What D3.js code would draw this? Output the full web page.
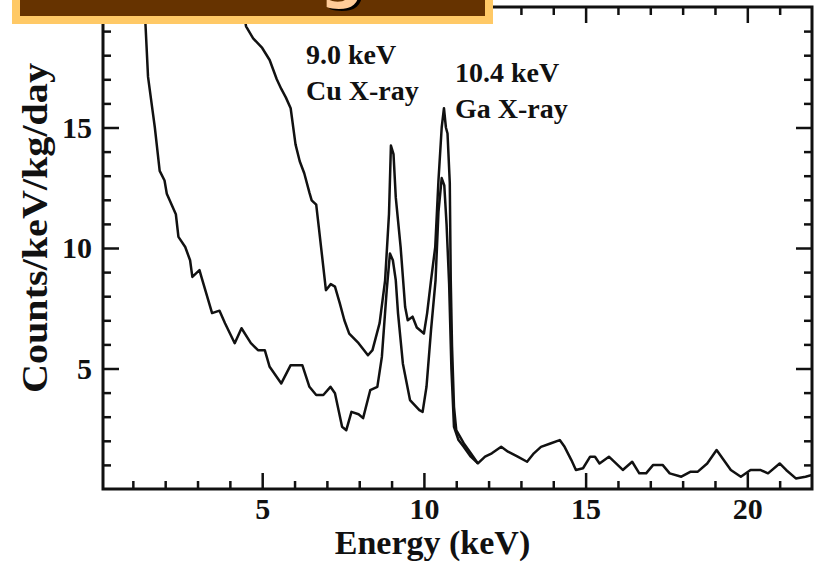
<!DOCTYPE html>
<html>
<head>
<meta charset="utf-8">
<script src="https://cdn.jsdelivr.net/npm/d3@7"></script>
<style>
  html, body { margin: 0; padding: 0; background: #fff; }
  svg { display: block; }
  .tick text { font-family: "Liberation Serif", "Times New Roman", serif; font-weight: bold; }
</style>
</head>
<body>
<svg id="chart" width="823" height="573"></svg>
<script>
// Spectrum with the higher low-energy background (upper trace)
const energyUpper = [4.35, 4.50, 4.72, 5.00, 5.23, 5.45, 5.59, 5.73, 5.88, 6.03, 6.16, 6.30, 6.46, 6.53, 6.67, 6.75, 6.82, 6.97, 7.12, 7.25, 7.40, 7.54, 7.69, 7.98, 8.27, 8.41, 8.63, 8.80, 8.92, 8.98, 9.06, 9.13, 9.28, 9.42, 9.50, 9.65, 9.78, 10.00, 10.10, 10.22, 10.35, 10.45, 10.55, 10.62, 10.68, 10.73, 10.80, 10.83, 10.87, 10.93, 11.00, 11.23, 11.45, 11.67];
const countsUpper = [20.5, 19.2, 18.7, 18.3, 17.8, 17.0, 16.6, 16.25, 15.8, 14.3, 13.6, 13.1, 12.3, 11.98, 11.8, 10.87, 10.04, 8.25, 8.5, 8.4, 7.7, 7.0, 6.45, 6.05, 5.55, 5.76, 6.88, 8.66, 11.4, 14.25, 13.9, 12.1, 10.04, 7.55, 7.0, 7.15, 6.7, 6.45, 7.3, 8.66, 10.04, 12.8, 15.0, 15.8, 15.0, 14.75, 12.7, 8.66, 5.9, 3.41, 2.44, 1.9, 1.48, 1.06];

// Spectrum with the lower background (lower trace)
const energyLower = [1.30, 1.39, 1.47, 1.61, 1.68, 1.83, 1.98, 2.05, 2.33, 2.41, 2.62, 2.77, 2.84, 3.06, 3.12, 3.45, 3.68, 3.85, 4.15, 4.36, 4.65, 4.87, 5.08, 5.23, 5.59, 5.88, 6.24, 6.46, 6.67, 6.89, 7.11, 7.25, 7.47, 7.60, 7.76, 7.98, 8.12, 8.34, 8.56, 8.70, 8.85, 8.95, 9.04, 9.13, 9.20, 9.35, 9.57, 9.86, 9.96, 10.08, 10.22, 10.36, 10.45, 10.55, 10.63, 10.70, 10.78, 10.85, 10.93, 11.07, 11.23, 11.45, 11.67, 11.89, 12.10, 12.39, 12.60, 12.90, 13.19, 13.40, 13.62, 13.91, 14.20, 14.35, 14.56, 14.70, 14.92, 15.14, 15.29, 15.43, 15.72, 15.94, 16.15, 16.44, 16.66, 16.87, 17.09, 17.38, 17.60, 17.96, 18.25, 18.47, 18.76, 19.05, 19.27, 19.49, 19.80, 20.10, 20.40, 20.64, 21.00, 21.20, 21.50, 21.80, 22.00];
const countsLower = [20.5, 19.3, 17.1, 15.7, 15.0, 13.2, 12.8, 12.25, 11.4, 10.46, 10.04, 9.49, 8.8, 9.08, 8.8, 7.3, 7.4, 6.88, 6.05, 6.67, 6.05, 5.76, 5.76, 5.07, 4.38, 5.14, 5.14, 4.24, 3.9, 3.9, 4.24, 3.97, 2.58, 2.44, 3.2, 3.1, 2.94, 4.1, 4.24, 5.48, 8.25, 9.77, 9.49, 8.66, 7.29, 5.2, 3.69, 3.27, 3.2, 4.24, 6.59, 8.66, 11.5, 12.9, 12.6, 11.0, 8.5, 5.0, 2.58, 2.03, 1.75, 1.34, 1.06, 1.34, 1.48, 1.75, 1.55, 1.34, 1.13, 1.48, 1.75, 1.89, 2.03, 1.75, 1.2, 0.79, 0.86, 1.34, 1.34, 1.06, 1.34, 1.06, 0.79, 1.13, 0.65, 0.65, 1.0, 1.0, 0.65, 0.51, 0.72, 0.72, 1.06, 1.62, 1.2, 0.79, 0.51, 0.79, 0.79, 0.65, 1.06, 0.79, 0.44, 0.51, 0.58];

// Axis ticks
const xMajorTicks = [5, 10, 15, 20];
const yMajorTicks = [5, 10, 15];

// Peak labels
const peakLabels = [
  { lines: ["9.0 keV", "Cu X-ray"], energy: 9.0 },
  { lines: ["10.4 keV", "Ga X-ray"], energy: 10.4 }
];

const bannerTitle = "Background";

const svg = d3.select("#chart");
const frameL = 103, frameR = 812, frameT = 7, frameB = 489;

const x = d3.scaleLinear().domain([0, 22]).range([100.5, 812]);
const y = d3.scaleLinear().domain([0, 20]).range([frameB, frameT]);

const xMinor = d3.range(1, 22).filter(v => v % 5 !== 0);
const yMinor = d3.range(1, 20).filter(v => v % 5 !== 0);

// clip traces to the frame
svg.append("defs").append("clipPath").attr("id", "plotclip")
  .append("rect").attr("x", frameL).attr("y", frameT).attr("width", frameR - frameL).attr("height", frameB - frameT);

const line = d3.line().x(d => x(d[0])).y(d => y(d[1]));
const plot = svg.append("g").attr("clip-path", "url(#plotclip)");
[[energyUpper, countsUpper], [energyLower, countsLower]].forEach(([es, cs]) => {
  plot.append("path")
    .datum(es.map((e, i) => [e, cs[i]]))
    .attr("d", line)
    .attr("fill", "none")
    .attr("stroke", "#111")
    .attr("stroke-width", 2.5)
    .attr("stroke-linejoin", "round");
});

// axes with inward ticks on all four sides
function styleAxis(g) {
  g.select(".domain").remove();
  g.selectAll(".tick line").attr("stroke", "#111").attr("stroke-width", 2.5);
}
const majorLen = 16, minorLen = 8;

svg.append("g").attr("transform", `translate(0,${frameB})`)
  .call(d3.axisBottom(x).tickValues(xMajorTicks).tickSize(-majorLen).tickPadding(9).tickFormat(d3.format("d")))
  .call(styleAxis)
  .call(g => g.selectAll(".tick text").attr("font-size", 30).attr("fill", "#111"));
svg.append("g").attr("transform", `translate(0,${frameB})`)
  .call(d3.axisBottom(x).tickValues(xMinor).tickSize(-minorLen).tickFormat(""))
  .call(styleAxis);
svg.append("g").attr("transform", `translate(0,${frameT})`)
  .call(d3.axisTop(x).tickValues(xMajorTicks).tickSize(-majorLen).tickFormat(""))
  .call(styleAxis);
svg.append("g").attr("transform", `translate(0,${frameT})`)
  .call(d3.axisTop(x).tickValues(xMinor).tickSize(-minorLen).tickFormat(""))
  .call(styleAxis);

svg.append("g").attr("transform", `translate(${frameL},0)`)
  .call(d3.axisLeft(y).tickValues(yMajorTicks).tickSize(-majorLen).tickPadding(11).tickFormat(d3.format("d")))
  .call(styleAxis)
  .call(g => g.selectAll(".tick text").attr("font-size", 30).attr("fill", "#111"));
svg.append("g").attr("transform", `translate(${frameL},0)`)
  .call(d3.axisLeft(y).tickValues(yMinor).tickSize(-minorLen).tickFormat(""))
  .call(styleAxis);
svg.append("g").attr("transform", `translate(${frameR},0)`)
  .call(d3.axisRight(y).tickValues(yMajorTicks).tickSize(-majorLen).tickFormat(""))
  .call(styleAxis);
svg.append("g").attr("transform", `translate(${frameR},0)`)
  .call(d3.axisRight(y).tickValues(yMinor).tickSize(-minorLen).tickFormat(""))
  .call(styleAxis);

// frame
svg.append("rect")
  .attr("x", frameL).attr("y", frameT).attr("width", frameR - frameL).attr("height", frameB - frameT)
  .attr("fill", "none").attr("stroke", "#111").attr("stroke-width", 3);

// axis titles
const serif = "'Liberation Serif', 'Times New Roman', serif";
svg.append("text")
  .attr("x", (frameL + frameR) / 2 - 25).attr("y", 554)
  .attr("text-anchor", "middle")
  .attr("font-family", serif).attr("font-weight", "bold").attr("font-size", 34).attr("fill", "#111")
  .text("Energy (keV)");
svg.append("text")
  .attr("transform", "translate(47,228) rotate(-90)")
  .attr("text-anchor", "middle")
  .attr("font-family", serif).attr("font-weight", "bold").attr("font-size", 36).attr("fill", "#111")
  .attr("textLength", 330).attr("lengthAdjust", "spacingAndGlyphs")
  .text("Counts/keV/kg/day");

// peak annotations
const labelPos = [{ dx: 306, base: 64 }, { dx: 455, base: 82 }];
peakLabels.forEach((p, i) => {
  const t = svg.append("text")
    .attr("font-family", serif).attr("font-weight", "bold").attr("font-size", 28).attr("fill", "#111");
  p.lines.forEach((s, j) => {
    t.append("tspan").attr("x", labelPos[i].dx).attr("y", labelPos[i].base + j * 36).text(s);
  });
});

// banner across the top-left corner
svg.append("rect").attr("x", 12).attr("y", -10).attr("width", 481).attr("height", 34).attr("fill", "#FFC966");
svg.append("rect").attr("x", 20).attr("y", -10).attr("width", 465).attr("height", 26).attr("fill", "#663300");
const banner = svg.append("g");
const bannerFont = "'DejaVu Sans', sans-serif";
const shadow = banner.append("text")
  .attr("font-family", bannerFont).attr("font-weight", "bold").attr("font-size", 62)
  .attr("fill", "#000").text(bannerTitle);
const face = banner.append("text")
  .attr("font-family", bannerFont).attr("font-weight", "bold").attr("font-size", 62)
  .attr("fill", "#FFCC99").text(bannerTitle);
// place the title so the descender of its "g" sits at the right spot
const gIndex = bannerTitle.indexOf("g");
const gStart = face.node().getSubStringLength(0, gIndex);
const gWidth = face.node().getSubStringLength(gIndex, 1);
const startX = 342 - gStart - gWidth / 2;
face.attr("x", startX).attr("y", -4);
shadow.attr("x", startX + 3).attr("y", -2);
</script>
</body>
</html>
